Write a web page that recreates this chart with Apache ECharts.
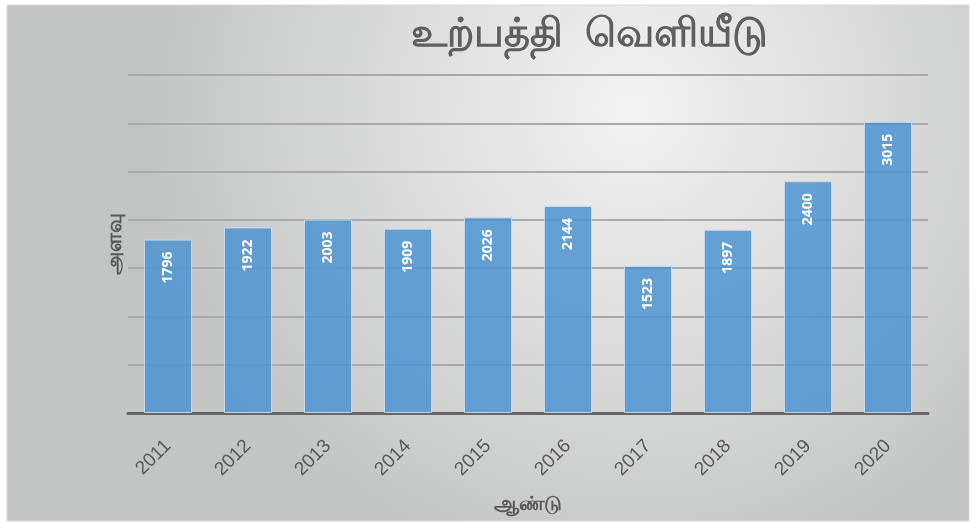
<!DOCTYPE html>
<html>
<head>
<meta charset="utf-8">
<script src="https://cdn.jsdelivr.net/npm/echarts@6/dist/echarts.min.js"></script>
<style>
  html, body { margin: 0; padding: 0; background: #fff; }
  #main { width: 976px; height: 524px; }
</style>
</head>
<body>
<div id="main"></div>
<script>
// data
var years = ['2011', '2012', '2013', '2014', '2015', '2016', '2017', '2018', '2019', '2020'];
var output = [1796, 1922, 2003, 1909, 2026, 2144, 1523, 1897, 2400, 3015];
var titleText = 'உற்பத்தி  வெளியீடு';
var xName = 'ஆண்டு';
var yName = 'அளவு';

var myChart = echarts.init(document.getElementById('main'));

var option = {
    backgroundColor: '#ffffff',
    graphic: [{
        type: 'rect',
        z: -10,
        shape: { x: 7, y: 5, width: 962, height: 516 },
        style: {
            fill: new echarts.graphic.RadialGradient(0.65, 0.2, 0.95, [
                { offset: 0, color: '#f3f3f3' },
                { offset: 1, color: '#c3c4c4' }
            ]),
            stroke: '#d9d9d9',
            lineWidth: 1
        }
    }],
    title: {
        text: titleText,
        left: 406,
        top: 10,
        textStyle: {
            color: '#5f5f5f',
            fontSize: 40,
            fontWeight: 'bold',
            fontFamily: 'sans-serif'
        }
    },
    grid: {
        left: 128,
        right: 48,
        top: 75,
        bottom: 111,
        outerBoundsMode: 'none',
        containLabel: false
    },
    xAxis: {
        type: 'category',
        data: years,
        name: xName,
        nameLocation: 'middle',
        nameGap: 81,
        nameTextStyle: { color: '#595959', fontSize: 20, fontWeight: 'bold' },
        axisLine: { lineStyle: { color: '#666666', width: 3 } },
        axisTick: { show: false },
        axisLabel: {
            rotate: 45,
            color: '#595959',
            fontSize: 19,
            margin: 30
        }
    },
    yAxis: {
        type: 'value',
        min: 0,
        max: 3500,
        interval: 500,
        name: yName,
        nameLocation: 'middle',
        nameGap: 2,
        nameRotate: 90,
        nameTextStyle: { color: '#595959', fontSize: 21, fontWeight: 'bold' },
        axisLine: { show: false },
        axisTick: { show: false },
        axisLabel: { show: false },
        splitLine: { lineStyle: { color: '#a9a9a9', width: 2 } }
    },
    series: [{
        type: 'bar',
        data: output,
        barWidth: '60%',
        z: 1,
        itemStyle: {
            color: 'rgba(79, 148, 210, 0.85)',
            borderColor: 'rgba(200, 220, 240, 0.9)',
            borderWidth: 1
        },
        label: {
            show: true,
            position: 'insideTop',
            rotate: 90,
            align: 'right',
            verticalAlign: 'middle',
            distance: 12,
            color: '#ffffff',
            fontSize: 14,
            fontWeight: 'bold',
            fontFamily: 'Open Sans'
        }
    }]
};

myChart.setOption(option);
</script>
</body>
</html>
